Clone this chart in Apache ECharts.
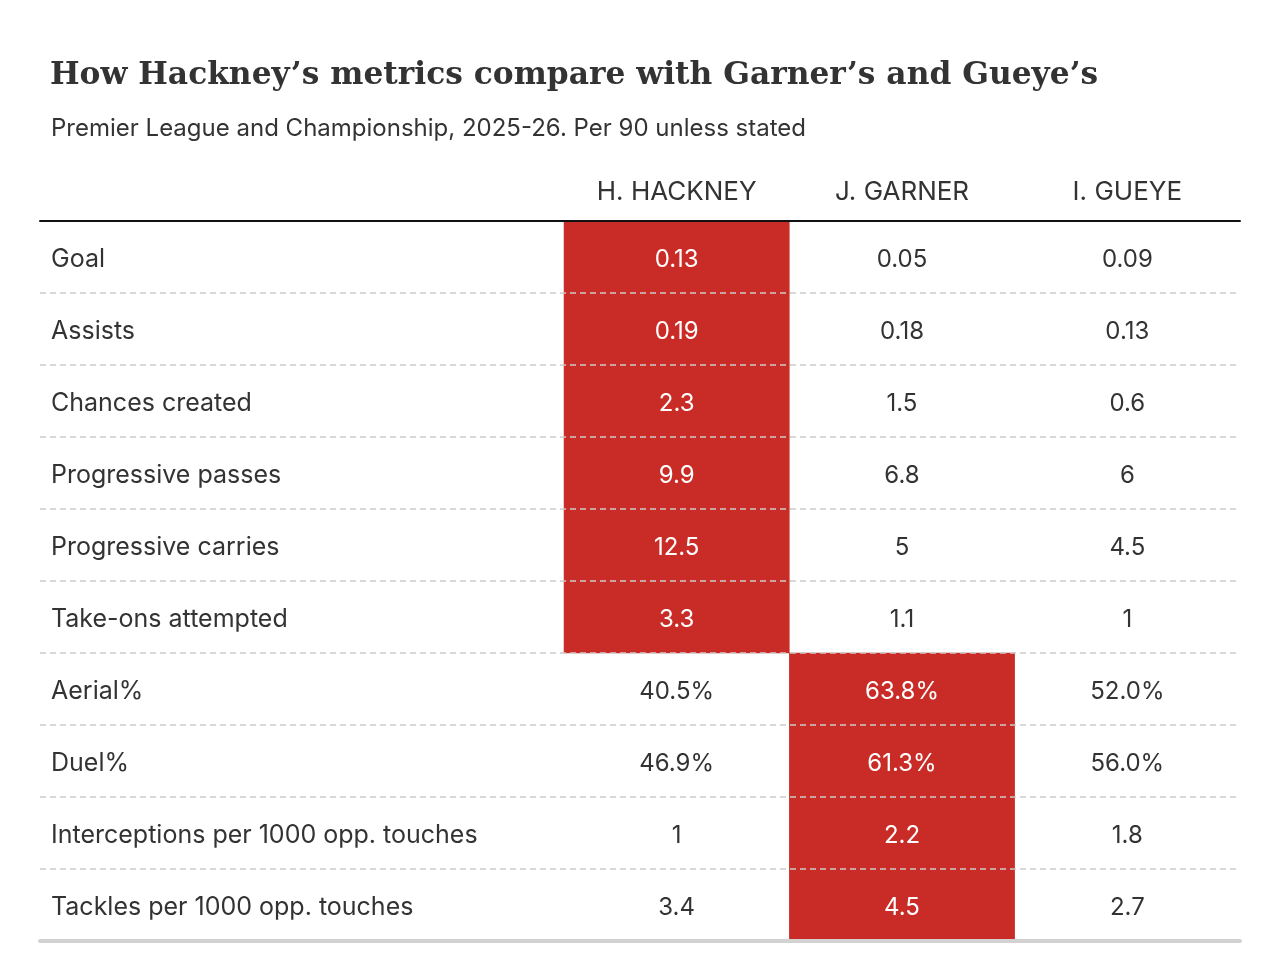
<!DOCTYPE html>
<html lang="en">
<head>
    <meta charset="UTF-8">
    <title>Hackney metrics</title>
    <script src="https://cdn.jsdelivr.net/npm/echarts@6/dist/echarts.min.js"></script>
    <style>
        html, body { margin: 0; padding: 0; background: #fff; }
        #chart { width: 1280px; height: 980px; }
    </style>
</head>
<body>
<div id="chart"></div>
<script type="text/javascript">
    // table data
    let metrics = ['Goal', 'Assists', 'Chances created', 'Progressive passes', 'Progressive carries',
        'Take-ons attempted', 'Aerial%', 'Duel%', 'Interceptions per 1000 opp. touches', 'Tackles per 1000 opp. touches'];
    let players = ['H. HACKNEY', 'J. GARNER', 'I. GUEYE'];
    let hackney = [0.13, 0.19, 2.3, 9.9, 12.5, 3.3, 40.5, 46.9, 1, 3.4];
    let garner = [0.05, 0.18, 1.5, 6.8, 5, 1.1, 63.8, 61.3, 2.2, 4.5];
    let gueye = [0.09, 0.13, 0.6, 6, 4.5, 1, 52.0, 56.0, 1.8, 2.7];
    let isPercent = [false, false, false, false, false, false, true, true, false, false];

    const RED = '#c92c26';
    const FONT = 'Inter';
    let columns = [hackney, garner, gueye];

    function fmt(v, row) {
        return isPercent[row] ? v.toFixed(1) + '%' : String(v);
    }

    let cells = [];
    metrics.forEach(function (m, row) {
        let vals = columns.map(function (c) { return c[row]; });
        let best = vals.indexOf(Math.max.apply(null, vals));
        vals.forEach(function (v, col) {
            let hi = col === best;
            cells.push({
                value: [col, row, v],
                itemStyle: { color: hi ? RED : 'rgba(0,0,0,0)' },
                label: { color: hi ? '#fff' : '#333' }
            });
        });
    });

    let myChart = echarts.init(document.getElementById('chart'));
    let option = {
        animation: false,
        title: [{
            text: 'How Hackney\u2019s metrics compare with Garner\u2019s and Gueye\u2019s',
            left: 50, top: 60, padding: 0,
            textStyle: { fontFamily: 'DejaVu Serif', fontWeight: 'bold', fontSize: 31.3, color: '#333' }
        }, {
            text: 'Premier League and Championship, 2025-26. Per 90 unless stated',
            left: 51, top: 117, padding: 0,
            textStyle: { fontFamily: FONT, fontWeight: 'normal', fontSize: 24, color: '#333' }
        }],
        grid: [
            { left: 40, right: 40, top: 221, bottom: 39 },
            { left: 564, right: 40, top: 221, bottom: 39 }
        ],
        xAxis: [{
            gridIndex: 0, type: 'value', min: 0, max: 1, position: 'bottom', z: 5,
            axisLine: { show: true, lineStyle: { color: '#d2d2d2', width: 4 } },
            axisTick: { show: false }, axisLabel: { show: false }, splitLine: { show: false }
        }, {
            gridIndex: 0, type: 'value', min: 0, max: 1, position: 'top', z: 5,
            axisLine: { show: true, lineStyle: { color: '#111', width: 2 } },
            axisTick: { show: false }, axisLabel: { show: false }, splitLine: { show: false }
        }, {
            gridIndex: 1, type: 'category', data: players, position: 'top',
            axisLine: { show: false }, axisTick: { show: false },
            axisLabel: { fontFamily: FONT, fontSize: 26, color: '#333', margin: 16 }
        }],
        yAxis: [{
            gridIndex: 0, type: 'category', data: metrics, inverse: true, z: 4,
            axisLine: { show: false }, axisTick: { show: false },
            axisLabel: {
                inside: true, margin: 11, fontFamily: FONT, fontSize: 25, color: '#333',
                verticalAlign: 'top', lineHeight: 4
            },
            splitLine: { show: true, lineStyle: { color: '#cccccc', width: 1.5, type: [6, 4] } }
        }, {
            gridIndex: 1, type: 'category', data: metrics, inverse: true, show: false
        }],
        series: [{
            type: 'heatmap',
            xAxisIndex: 2,
            yAxisIndex: 1,
            data: cells,
            label: {
                show: true,
                fontFamily: FONT, fontSize: 24, offset: [0, 3],
                formatter: function (p) { return fmt(p.value[2], p.value[1]); }
            },
            emphasis: { disabled: true }
        }]
    };
    myChart.setOption(option);
</script>
</body>
</html>
